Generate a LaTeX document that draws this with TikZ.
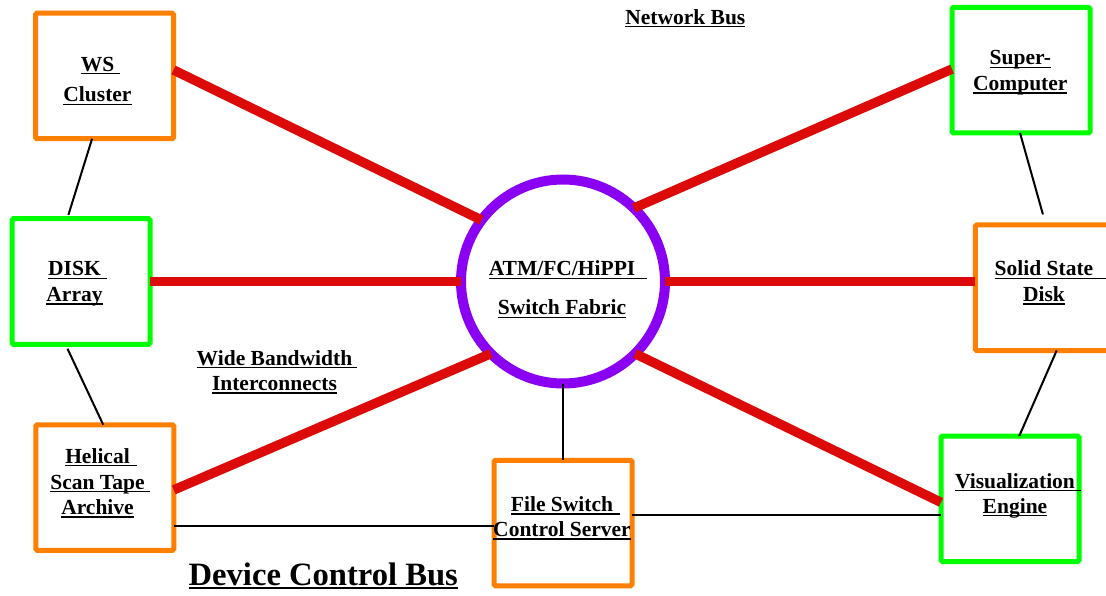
\documentclass[tikz,border=0pt]{standalone}
\usepackage{fontspec}
\setmainfont{Liberation Serif}
\usetikzlibrary{calc}
\definecolor{boxorange}{HTML}{FF8000}
\definecolor{boxgreen}{HTML}{00FF00}
\definecolor{linkred}{HTML}{DD0A0A}
\definecolor{ringviolet}{HTML}{8A00F2}
\newcommand\myul[2][0pt]{\setbox0\hbox{#2}\rlap{\rule[-3pt]{\dimexpr\wd0+#1\relax}{1.4pt}}\box0}
\newcommand\bigul[1]{\setbox0\hbox{#1}\rlap{\rule[-4pt]{\wd0}{2pt}}\box0}
\tikzset{
  dev/.style={draw, rectangle, line width=5pt, minimum width=138pt, minimum height=125.5pt,
    inner sep=0pt, outer sep=0pt, rounded corners=1.5pt},
  orangebox/.style={dev, draw=boxorange},
  greenbox/.style={dev, draw=boxgreen},
  fabric/.style={draw=ringviolet, circle, line width=10pt, minimum size=204pt, inner sep=0pt, outer sep=0pt},
  wide/.style={draw=linkred, line width=9.5pt},
  ctrl/.style={draw=black, line width=2pt},
  lbl/.style={anchor=base, inner sep=0pt, font=\bfseries\fontsize{21.5}{25.7}\selectfont},
}
\begin{document}
\begin{tikzpicture}[x=1pt,y=-1pt]
\useasboundingbox (0,0) rectangle (1106,596);
% devices
\node[orangebox] (ws) at (104.5,76) {};
\node[greenbox] (sc) at (1021,70.25) {};
\node[greenbox] (disk) at (81,281.5) {};
\node[orangebox] (ssd) at (1044.25,287.75) {};
\node[orangebox] (hel) at (104.75,487.5) {};
\node[orangebox] (fs) at (563,523) {};
\node[greenbox] (vis) at (1010,498.75) {};
\node[fabric] (sw) at (563,281.5) {};
% wide bandwidth interconnects
\draw[wide] (ws.5.8) -- (sw.143.7);
\draw[wide] (sc.179) -- (sw.46.6);
\draw[wide] (disk.east) -- (sw.west);
\draw[wide] (sw.east) -- (sw.east -| ssd.west);
\draw[wide] (hel.-2.1) -- (sw.225.2);
\draw[wide] (sw.-45.2) -- (vis.183.5);
% control lines
\draw[ctrl, shorten >=4pt] ($(ws.south west)!0.41!(ws.south east)$) -- ($(disk.north west)!0.40!(disk.north east)$);
\draw[ctrl, shorten <=5pt] ($(disk.south west)!0.387!(disk.south east)$) -- ($(hel.north west)!0.489!(hel.north east)$);
\draw[ctrl, shorten >=11pt] ($(sc.south west)!0.493!(sc.south east)$) -- ($(ssd.north west)!0.512!(ssd.north east)$);
\draw[ctrl] ($(ssd.south west)!0.59!(ssd.south east)$) -- ($(vis.north west)!0.567!(vis.north east)$);
\draw[ctrl] (sw.south) -- (fs.north);
\draw[ctrl] (hel.-29.9) -- (hel.-29.9 -| fs.west);
\draw[ctrl] (vis.193.6 -| fs.east) -- (vis.193.6);
% labels
\node[lbl, font=\bfseries\fontsize{21.5}{30.5}\selectfont] (wst) at (97.5,71.5)
  {\begin{tabular}[t]{@{}c@{}}\myul[6pt]{WS}\\ \myul{Cluster}\end{tabular}};
\node[lbl] (sct) at (1020.3,65) {\begin{tabular}[t]{@{}c@{}}\myul{Super-}\\ \myul{Computer}\end{tabular}};
\node[lbl] (ssdt) at (1044,276) {\begin{tabular}[t]{@{}c@{}}\myul[14pt]{Solid State}\\ \myul{Disk}\end{tabular}};
\node[lbl] (diskt) at (74.5,276) {\begin{tabular}[t]{@{}c@{}}\myul[6pt]{DISK}\\ \myul{Array}\end{tabular}};
\node[lbl] (widet) at (274.5,365) {\begin{tabular}[t]{@{}c@{}}\myul[5pt]{Wide Bandwidth}\\ \myul{Interconnects}\end{tabular}};
\node[lbl] (helt) at (97.5,463.3) {\begin{tabular}[t]{@{}c@{}}\myul[7pt]{Helical}\\ \myul[5pt]{Scan Tape}\\ \myul{Archive}\end{tabular}};
\node[lbl, font=\bfseries\fontsize{21.5}{39}\selectfont] (swt) at (562,276)
  {\begin{tabular}[t]{@{}c@{}}\myul[12pt]{ATM/FC/HiPPI}\\ \myul{Switch Fabric}\end{tabular}};
\node[lbl, font=\bfseries\fontsize{21.5}{25}\selectfont] (fst) at (562,511.7)
  {\begin{tabular}[t]{@{}c@{}}\myul[7pt]{File Switch}\\ \myul{Control Server}\end{tabular}};
\node[lbl, font=\bfseries\fontsize{21.5}{25}\selectfont] (vist) at (1015,488.3)
  {\begin{tabular}[t]{@{}c@{}}\myul[6pt]{Visualization}\\ \myul{Engine}\end{tabular}};
\node[lbl] (netbus) at (685.3,24.5) {\myul{Network Bus}};
\node[lbl, font=\bfseries\fontsize{32.6}{38}\selectfont] (devbus) at (323.3,585) {\bigul{Device Control Bus}};
\end{tikzpicture}
\end{document}
